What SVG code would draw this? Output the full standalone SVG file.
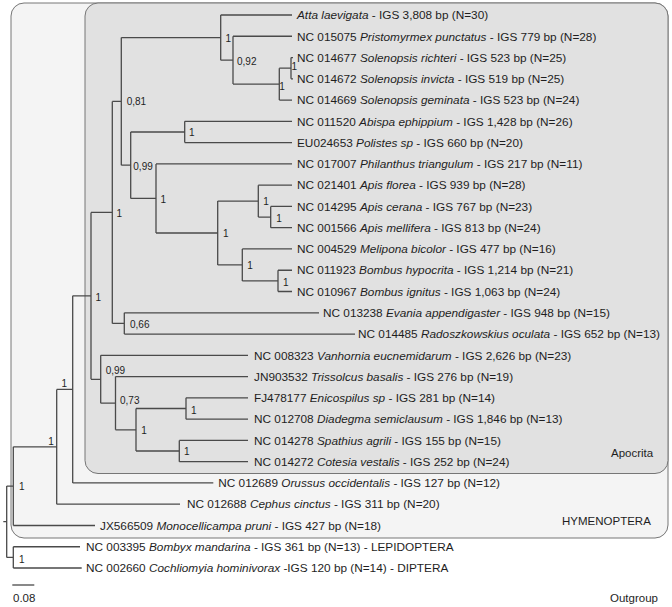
<svg xmlns="http://www.w3.org/2000/svg" width="672" height="607" viewBox="0 0 672 607">
<style>
text{font-family:"Liberation Sans",Arial,sans-serif;fill:#1e1e1e}
.lf{font-size:11.8px}
.sv{font-size:10px}
.sv1{font-size:10px;text-anchor:middle}
.cl{font-size:11.5px}
.br{fill:none;stroke:#4a4a4a;stroke-width:1.3}
.box{stroke:#767676;stroke-width:1}
</style>
<rect width="672" height="607" fill="#ffffff"/>
<g id="clade-hymenoptera">
<rect class="box" x="11" y="3" width="657" height="535" rx="13" fill="#f4f4f4"/>
<text class="cl" x="562" y="524.5">HYMENOPTERA</text>
</g>
<g id="clade-apocrita">
<rect class="box" x="85" y="3" width="583" height="470.5" rx="13" fill="#e1e1e1"/>
<text class="cl" x="611" y="456.5">Apocrita</text>
</g>
<g id="clade-outgroup">
<text class="cl" x="610" y="602">Outgroup</text>
</g>
<g id="connectors" class="br">
<path d="M220.7,15H292M233,36.27H292M291,57.54H293M291,78.81H293M291,57.54V78.81M279.3,68.2H291M279.3,100.08H292M279.3,68.2V100.08M233,84.1H279.3M233,36.27V84.1M220.7,60.2H233M220.7,15V60.2M121.3,37.6H220.7"/>
<path d="M184.7,121.35H292M184.7,142.62H292M184.7,121.35V142.62M130.7,132H184.7"/>
<path d="M156,163.89H292M258.3,185.16H292M270.7,206.43H292M270.7,227.7H292M270.7,206.43V227.7M258.3,217.07H270.7M258.3,185.16V217.07M217.7,201.1H258.3M242.3,248.97H292M278,270.24H292M278,291.51H292M278,270.24V291.51M242.3,280.9H278M242.3,248.97V280.9M217.7,264.9H242.3M217.7,201.1V264.9M156,233H217.7M156,163.89V233M130.7,198.4H156M130.7,132V198.4M121.3,165.2H130.7M121.3,37.6V165.2M112.3,101.4H121.3"/>
<path d="M124.3,312.78H319M124.3,334.05H355M124.3,312.78V334.05M112.3,323.4H124.3M112.3,101.4V323.4M91,212.4H112.3"/>
<path d="M100.7,355.32H248M115.5,376.59H248M186,397.86H248M186,419.13H248M186,397.86V419.13M136,408.5H186M179.3,440.4H248M179.3,461.67H248M179.3,440.4V461.67M136,451H179.3M136,408.5V451M115.5,429.8H136M115.5,376.59V429.8M100.7,403.2H115.5M100.7,355.32V403.2M91,379.3H100.7M91,212.4V379.3M72.7,295.8H91"/>
<path d="M72.7,482.94H213.3M72.7,295.8V482.94M56.7,389.4H72.7M56.7,504.21H180M56.7,389.4V504.21M13.3,446.8H56.7M13.3,525.48H95M13.3,446.8V525.48M6.7,486.1H13.3"/>
<path d="M13.3,546.75H80M13.3,568.02H81.7M13.3,546.75V568.02M6.7,557.4H13.3M6.7,486.1V557.4M3.3,521.7H6.7"/>
<path d="M12.3,585H34.3"/>
</g>
<g id="support-values">
<text class="sv1" x="228.3" y="41.9">1</text>
<text class="sv" x="237" y="64.6">0,92</text>
<text class="sv1" x="294.3" y="70.3">1</text>
<text class="sv1" x="282" y="89.6">1</text>
<text class="sv" x="126.7" y="105.3">0,81</text>
<text class="sv1" x="191.7" y="136.3">1</text>
<text class="sv" x="133.3" y="169.6">0,99</text>
<text class="sv1" x="163.3" y="202.6">1</text>
<text class="sv1" x="266" y="205.3">1</text>
<text class="sv1" x="279" y="221.9">1</text>
<text class="sv1" x="225.7" y="236.6">1</text>
<text class="sv1" x="250" y="269.3">1</text>
<text class="sv1" x="285.7" y="285.6">1</text>
<text class="sv1" x="119.3" y="216.9">1</text>
<text class="sv1" x="98.3" y="300.6">1</text>
<text class="sv" x="130" y="327.9">0,66</text>
<text class="sv" x="105.7" y="373.6">0,99</text>
<text class="sv" x="120" y="403.6">0,73</text>
<text class="sv1" x="193.7" y="413.6">1</text>
<text class="sv1" x="144" y="434.3">1</text>
<text class="sv1" x="186.7" y="455.3">1</text>
<text class="sv1" x="64.3" y="386.9">1</text>
<text class="sv1" x="51" y="444.6">1</text>
<text class="sv1" x="21.7" y="490.3">1</text>
<text class="sv1" x="21.7" y="562.6">1</text>
</g>
<g id="scale-bar">
<text class="cl" x="13" y="602">0.08</text>
</g>
<g id="taxa" class="lf">
<g id="t-atta"><text class="lf" x="297" y="19.2"><tspan font-style="italic">Atta laevigata</tspan> - IGS 3,808 bp (N=30)</text></g>
<g id="t-pristomyrmex"><text class="lf" x="297" y="40.5">NC 015075 <tspan font-style="italic">Pristomyrmex punctatus</tspan> - IGS 779 bp (N=28)</text></g>
<g id="t-richteri"><text class="lf" x="297" y="61.7">NC 014677 <tspan font-style="italic">Solenopsis richteri</tspan> - IGS 523 bp (N=25)</text></g>
<g id="t-invicta"><text class="lf" x="297" y="83">NC 014672 <tspan font-style="italic">Solenopsis invicta</tspan> - IGS 519 bp (N=25)</text></g>
<g id="t-geminata"><text class="lf" x="297" y="104.3">NC 014669 <tspan font-style="italic">Solenopsis geminata</tspan> - IGS 523 bp (N=24)</text></g>
<g id="t-abispa"><text class="lf" x="297" y="125.5">NC 011520 <tspan font-style="italic">Abispa ephippium</tspan> - IGS 1,428 bp (N=26)</text></g>
<g id="t-polistes"><text class="lf" x="297" y="146.8">EU024653 <tspan font-style="italic">Polistes sp</tspan> - IGS 660 bp (N=20)</text></g>
<g id="t-philanthus"><text class="lf" x="297" y="168.1">NC 017007 <tspan font-style="italic">Philanthus triangulum</tspan> - IGS 217 bp (N=11)</text></g>
<g id="t-florea"><text class="lf" x="297" y="189.4">NC 021401 <tspan font-style="italic">Apis florea</tspan> - IGS 939 bp (N=28)</text></g>
<g id="t-cerana"><text class="lf" x="297" y="210.6">NC 014295 <tspan font-style="italic">Apis cerana</tspan> - IGS 767 bp (N=23)</text></g>
<g id="t-mellifera"><text class="lf" x="297" y="231.9">NC 001566 <tspan font-style="italic">Apis mellifera</tspan> - IGS 813 bp (N=24)</text></g>
<g id="t-melipona"><text class="lf" x="297" y="253.2">NC 004529 <tspan font-style="italic">Melipona bicolor</tspan> - IGS 477 bp (N=16)</text></g>
<g id="t-hypocrita"><text class="lf" x="297" y="274.4">NC 011923 <tspan font-style="italic">Bombus hypocrita</tspan> - IGS 1,214 bp (N=21)</text></g>
<g id="t-ignitus"><text class="lf" x="297" y="295.7">NC 010967 <tspan font-style="italic">Bombus ignitus</tspan> - IGS 1,063 bp (N=24)</text></g>
<g id="t-evania"><text class="lf" x="323" y="317">NC 013238 <tspan font-style="italic">Evania appendigaster</tspan> - IGS 948 bp (N=15)</text></g>
<g id="t-radoszkowskius"><text class="lf" x="358" y="338.3">NC 014485 <tspan font-style="italic">Radoszkowskius oculata</tspan> - IGS 652 bp (N=13)</text></g>
<g id="t-vanhornia"><text class="lf" x="254" y="359.5">NC 008323 <tspan font-style="italic">Vanhornia eucnemidarum</tspan> - IGS 2,626 bp (N=23)</text></g>
<g id="t-trissolcus"><text class="lf" x="254" y="380.8">JN903532 <tspan font-style="italic">Trissolcus basalis</tspan> - IGS 276 bp (N=19)</text></g>
<g id="t-enicospilus"><text class="lf" x="254" y="402.1">FJ478177 <tspan font-style="italic">Enicospilus sp</tspan> - IGS 281 bp (N=14)</text></g>
<g id="t-diadegma"><text class="lf" x="254" y="423.3">NC 012708 <tspan font-style="italic">Diadegma semiclausum</tspan> - IGS 1,846 bp (N=13)</text></g>
<g id="t-spathius"><text class="lf" x="254" y="444.6">NC 014278 <tspan font-style="italic">Spathius agrili</tspan> - IGS 155 bp (N=15)</text></g>
<g id="t-cotesia"><text class="lf" x="254" y="465.9">NC 014272 <tspan font-style="italic">Cotesia vestalis</tspan> - IGS 252 bp (N=24)</text></g>
<g id="t-orussus"><text class="lf" x="218.3" y="487.1">NC 012689 <tspan font-style="italic">Orussus occidentalis</tspan> - IGS 127 bp (N=12)</text></g>
<g id="t-cephus"><text class="lf" x="187" y="508.4">NC 012688 <tspan font-style="italic">Cephus cinctus</tspan> - IGS 311 bp (N=20)</text></g>
<g id="t-monocellicampa"><text class="lf" x="100" y="529.7">JX566509 <tspan font-style="italic">Monocellicampa pruni</tspan> - IGS 427 bp (N=18)</text></g>
<g id="t-bombyx"><text class="lf" x="86" y="551">NC 003395 <tspan font-style="italic">Bombyx mandarina</tspan> - IGS 361 bp (N=13) - LEPIDOPTERA</text></g>
<g id="t-cochliomyia"><text class="lf" x="86" y="572.2">NC 002660 <tspan font-style="italic">Cochliomyia hominivorax</tspan> -IGS 120 bp (N=14) - DIPTERA</text></g>
</g>
</svg>
